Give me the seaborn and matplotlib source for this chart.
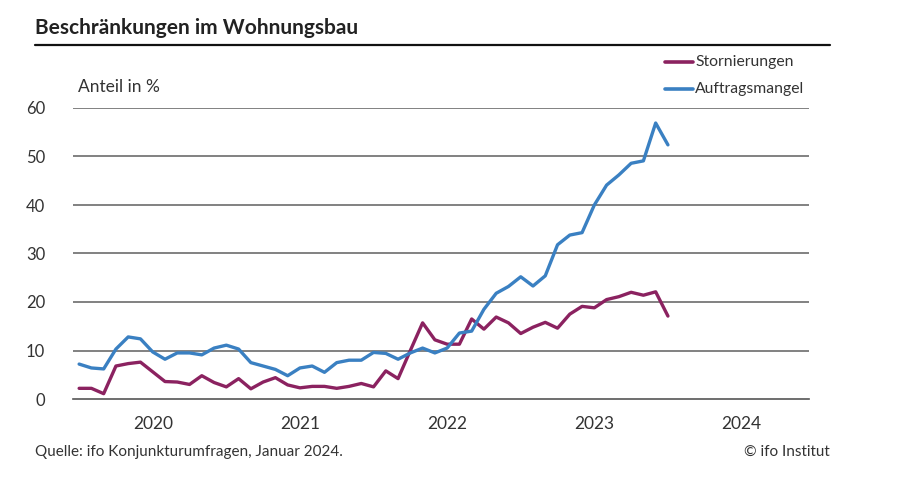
import numpy as np
import pandas as pd
import matplotlib
matplotlib.use("Agg")
import matplotlib.pyplot as plt
import seaborn as sns

# Monatswerte Jan 2020 - Jan 2024, Anteil in %
stornierungen = [2.2, 2.2, 1.1, 6.8, 7.3, 7.6, 5.6, 3.6, 3.5, 3.0, 4.8, 3.4,
                 2.5, 4.2, 2.1, 3.5, 4.4, 2.9, 2.3, 2.6, 2.6, 2.2, 2.6, 3.2,
                 2.5, 5.8, 4.2, 10.0, 15.7, 12.2, 11.3, 11.3, 16.5, 14.4, 16.9, 15.7,
                 13.5, 14.8, 15.8, 14.6, 17.5, 19.1, 18.8, 20.5, 21.1, 22.0, 21.4, 22.1,
                 17.1]
auftragsmangel = [7.2, 6.4, 6.2, 10.3, 12.8, 12.4, 9.7, 8.2, 9.5, 9.5, 9.1, 10.5,
                  11.1, 10.3, 7.5, 6.8, 6.1, 4.8, 6.4, 6.8, 5.5, 7.5, 8.0, 8.0,
                  9.6, 9.4, 8.2, 9.5, 10.5, 9.5, 10.5, 13.6, 14.0, 18.5, 21.8, 23.2,
                  25.2, 23.3, 25.4, 31.8, 33.8, 34.3, 40.0, 44.1, 46.2, 48.6, 49.1, 56.9,
                  52.4]
years = ["2020", "2021", "2022", "2023", "2024"]
y_ticks = [0, 10, 20, 30, 40, 50, 60]

series_names = ["Stornierungen", "Auftragsmangel"]
colors = {"Stornierungen": "#8b2260", "Auftragsmangel": "#3a80c2"}

months = np.arange(len(stornierungen))
df = pd.DataFrame({
    "monat": np.concatenate([months, months]),
    "wert": stornierungen + auftragsmangel,
    "reihe": ["Stornierungen"] * len(months) + ["Auftragsmangel"] * len(months),
})

sns.set_style("white")
plt.rcParams["font.family"] = ["Lato", "DejaVu Sans"]
plt.rcParams["ytick.major.pad"] = 20

fig = plt.figure(figsize=(9, 4.9), dpi=100)
ax = fig.add_axes([73 / 900, 1 - 399 / 490, (809 - 73) / 900, (399 - 108) / 490])

sns.lineplot(data=df, x="monat", y="wert", hue="reihe", hue_order=series_names,
             palette=colors, linewidth=2.4, ax=ax, legend=False, clip_on=False)

ax.set_xlim(-0.5, 12 * len(years) - 0.5)
ax.set_ylim(0, 60)
ax.set_xlabel("")
ax.set_ylabel("")

# gridlines
ax.set_yticks(y_ticks)
ax.set_yticklabels([str(v) for v in y_ticks], fontsize=12, color="#333333")
for v in y_ticks[1:]:
    ax.axhline(v, color="#777777", linewidth=1.3, zorder=0)
ax.tick_params(axis="y", which="major", length=0, pad=20)

# x axis: ticks at year boundaries, labels mid-year
bounds = [12 * i - 0.5 for i in range(len(years) + 1)]
ax.set_xticks(bounds)
ax.set_xticklabels([""] * len(bounds))
ax.set_xticks([12 * i + 6 for i in range(len(years))], minor=True)
ax.set_xticklabels(years, minor=True, fontsize=12.5, color="#333333")
ax.tick_params(axis="x", which="major", length=6, width=1.2, color="#555555", direction="out")
ax.tick_params(axis="x", which="minor", length=0, pad=12)

for s in ["top", "right", "left"]:
    ax.spines[s].set_visible(False)
ax.spines["bottom"].set_color("#555555")
ax.spines["bottom"].set_linewidth(1.2)

fig.text(78 / 900, 1 - 87 / 490, "Anteil in %", fontsize=12.5, color="#333333", va="center")

# title and rule
fig.text(35 / 900, 1 - 28 / 490, "Beschränkungen im Wohnungsbau", fontsize=15,
         fontweight="bold", color="#222222", va="center")
fig.add_artist(plt.Line2D([35 / 900, 830 / 900], [1 - 45 / 490, 1 - 45 / 490],
                          color="#111111", linewidth=1.6))

# legend
for i, name in enumerate(series_names):
    yy = 1 - (62 + 27 * i) / 490
    fig.add_artist(plt.Line2D([665 / 900, 693 / 900], [yy, yy], color=colors[name], linewidth=2.6))
    fig.text(695 / 900, yy, name, fontsize=11.3, color="#333333", va="center")

# footer
fig.text(35 / 900, 1 - 452 / 490, "Quelle: ifo Konjunkturumfragen, Januar 2024.",
         fontsize=11, color="#333333", va="center")
fig.text(830 / 900, 1 - 452 / 490, "© ifo Institut", fontsize=11, color="#333333",
         va="center", ha="right")

fig.savefig("out.png", dpi=100)
